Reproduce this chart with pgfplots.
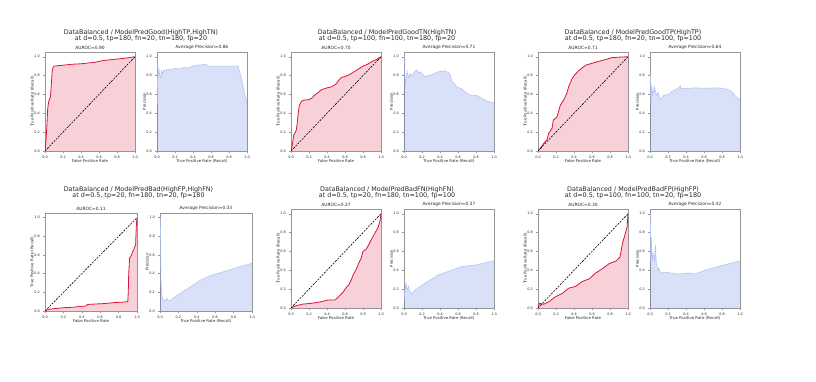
\documentclass[border=0pt]{standalone}
\usepackage{fontspec}
\setmainfont{DejaVu Sans}
\usepackage{pgfplots}
\usepackage{pgfplotstable}
\pgfplotsset{compat=1.18}
\definecolor{roc}{RGB}{220,20,60}
\definecolor{prc}{RGB}{65,105,225}
\definecolor{spinec}{RGB}{150,150,150}
\definecolor{txt}{RGB}{40,40,40}
\pgfplotsset{
 base/.style={scale only axis, width=90pt, height=99pt, anchor=north west,
  xmin=0,xmax=1,ymin=0,ymax=1.05,
  axis line style={spinec, line width=0.9pt},
  xtick={0,0.2,0.4,0.6,0.8,1}, ytick={0,0.2,0.4,0.6,0.8,1},
  xticklabels={0.0,0.2,0.4,0.6,0.8,1.0}, yticklabels={0.0,0.2,0.4,0.6,0.8,1.0},
  tick align=outside, xtick pos=bottom, ytick pos=left, major tick length=1.6pt,
  tick style={spinec, line width=0.4pt},
  tick label style={font=\fontsize{3.4}{3.8}\selectfont, text=txt},
  label style={font=\fontsize{3.9}{4.3}\selectfont, text=txt},
  xlabel style={at={(axis description cs:0.5,-0.1)}, anchor=center},
  ylabel style={at={(axis description cs:-0.14,0.5)}, anchor=center},
  title style={font=\fontsize{4.4}{4.8}\selectfont, text=txt, at={(0.5,1)}, anchor=south, yshift=-7.2pt},
  clip=true},
 rocax/.style={base, xlabel={False Positive Rate}, ylabel={True Positive Rate (Recall)}},
 prax/.style={base, xlabel={True Positive Rate (Recall)}, ylabel={Precision}},
 rocfill/.style={fill=roc, fill opacity=0.2, draw=none},
 rocline/.style={roc, line width=0.8pt},
 prfill/.style={fill=prc, fill opacity=0.2, draw=none},
 prline/.style={prc!40, line width=0.6pt},
 diag/.style={black, line width=0.6pt, dash pattern=on 2pt off 1.2pt},
}
\newcommand{\suptitle}[3]{\node[font=\fontsize{6.4}{7}\selectfont, text=txt] at (#1pt,-#2pt) {#3};}
% ---- data ----
\pgfplotstableread[row sep=\\]{x y\\ 0 0\\ 0.01 0.1\\ 0.02 0.25\\ 0.03 0.45\\ 0.04 0.52\\ 0.05 0.55\\ 0.06 0.57\\ 0.07 0.7\\ 0.08 0.85\\ 0.09 0.89\\ 0.1 0.90\\ 0.15 0.905\\ 0.2 0.91\\ 0.25 0.915\\ 0.3 0.92\\ 0.4 0.925\\ 0.45 0.93\\ 0.5 0.935\\ 0.55 0.94\\ 0.6 0.95\\ 0.65 0.96\\ 0.7 0.965\\ 0.8 0.975\\ 0.9 0.985\\ 1 1\\}\rocA
\pgfplotstableread[row sep=\\]{x y\\ 0 1.0\\ 0.002 0.5\\ 0.005 0.67\\ 0.01 0.75\\ 0.02 0.88\\ 0.03 0.8\\ 0.04 0.78\\ 0.05 0.85\\ 0.06 0.82\\ 0.08 0.86\\ 0.1 0.85\\ 0.12 0.87\\ 0.15 0.86\\ 0.2 0.875\\ 0.25 0.87\\ 0.3 0.885\\ 0.35 0.88\\ 0.4 0.9\\ 0.45 0.91\\ 0.5 0.915\\ 0.55 0.915\\ 0.57 0.9\\ 0.65 0.9\\ 0.75 0.9\\ 0.85 0.9\\ 0.9 0.9\\ 0.91 0.87\\ 0.93 0.8\\ 0.95 0.72\\ 0.97 0.62\\ 0.99 0.55\\ 1.0 0.5\\}\prA
\pgfplotstableread[row sep=\\]{x y\\ 0 0\\ 0.01 0.04\\ 0.02 0.1\\ 0.03 0.17\\ 0.05 0.2\\ 0.06 0.23\\ 0.07 0.3\\ 0.08 0.4\\ 0.09 0.47\\ 0.1 0.5\\ 0.12 0.53\\ 0.15 0.54\\ 0.2 0.545\\ 0.23 0.56\\ 0.26 0.59\\ 0.3 0.62\\ 0.34 0.65\\ 0.4 0.67\\ 0.45 0.68\\ 0.5 0.71\\ 0.53 0.75\\ 0.56 0.78\\ 0.6 0.79\\ 0.65 0.81\\ 0.7 0.84\\ 0.75 0.87\\ 0.8 0.9\\ 0.85 0.92\\ 0.9 0.95\\ 0.95 0.97\\ 1 1\\}\rocB
\pgfplotstableread[row sep=\\]{x y\\ 0 1.0\\ 0.008 1.0\\ 0.012 0.68\\ 0.025 0.78\\ 0.037 0.84\\ 0.05 0.78\\ 0.07 0.82\\ 0.09 0.79\\ 0.11 0.83\\ 0.14 0.86\\ 0.16 0.82\\ 0.18 0.84\\ 0.23 0.79\\ 0.31 0.81\\ 0.38 0.84\\ 0.46 0.85\\ 0.51 0.82\\ 0.53 0.74\\ 0.59 0.68\\ 0.64 0.66\\ 0.7 0.61\\ 0.75 0.59\\ 0.81 0.59\\ 0.86 0.56\\ 0.92 0.53\\ 1 0.51\\}\prB
\pgfplotstableread[row sep=\\]{x y\\ 0 0\\ 0.026 0.03\\ 0.063 0.08\\ 0.1 0.12\\ 0.12 0.19\\ 0.156 0.24\\ 0.17 0.33\\ 0.21 0.36\\ 0.25 0.49\\ 0.285 0.54\\ 0.32 0.61\\ 0.34 0.68\\ 0.38 0.77\\ 0.41 0.81\\ 0.45 0.85\\ 0.49 0.88\\ 0.53 0.91\\ 0.6 0.93\\ 0.67 0.95\\ 0.75 0.97\\ 0.82 0.99\\ 0.9 0.995\\ 1 1\\}\rocC
\pgfplotstableread[row sep=\\]{x y\\ 0 0.8\\ 0.005 0.8\\ 0.01 0.5\\ 0.02 0.7\\ 0.03 0.6\\ 0.05 0.68\\ 0.07 0.59\\ 0.09 0.62\\ 0.115 0.54\\ 0.15 0.59\\ 0.21 0.6\\ 0.24 0.63\\ 0.32 0.67\\ 0.34 0.69\\ 0.345 0.66\\ 0.43 0.665\\ 0.5 0.67\\ 0.61 0.665\\ 0.73 0.67\\ 0.8 0.665\\ 0.87 0.65\\ 0.91 0.63\\ 0.95 0.58\\ 1 0.54\\}\prC
\pgfplotstableread[row sep=\\]{x y\\ 0 0\\ 0.02 0.01\\ 0.05 0.02\\ 0.1 0.025\\ 0.15 0.03\\ 0.2 0.035\\ 0.3 0.04\\ 0.4 0.05\\ 0.45 0.055\\ 0.46 0.07\\ 0.55 0.075\\ 0.65 0.08\\ 0.75 0.09\\ 0.85 0.095\\ 0.9 0.1\\ 0.905 0.2\\ 0.91 0.4\\ 0.92 0.57\\ 0.93 0.58\\ 0.94 0.6\\ 0.95 0.63\\ 0.96 0.65\\ 0.97 0.67\\ 0.98 0.7\\ 0.985 0.71\\ 0.99 0.85\\ 0.995 0.95\\ 1 1\\}\rocD
\pgfplotstableread[row sep=\\]{x y\\ 0 1.0\\ 0.004 1.0\\ 0.01 0.33\\ 0.018 0.17\\ 0.03 0.13\\ 0.05 0.11\\ 0.065 0.12\\ 0.075 0.136\\ 0.09 0.107\\ 0.12 0.118\\ 0.19 0.17\\ 0.3 0.24\\ 0.44 0.33\\ 0.55 0.38\\ 0.69 0.42\\ 0.87 0.475\\ 1 0.51\\}\prD
\pgfplotstableread[row sep=\\]{x y\\ 0 0\\ 0.044 0.02\\ 0.12 0.04\\ 0.23 0.05\\ 0.34 0.067\\ 0.41 0.085\\ 0.49 0.085\\ 0.53 0.12\\ 0.58 0.17\\ 0.62 0.226\\ 0.64 0.24\\ 0.67 0.3\\ 0.69 0.35\\ 0.71 0.385\\ 0.73 0.42\\ 0.75 0.47\\ 0.78 0.53\\ 0.8 0.6\\ 0.84 0.63\\ 0.88 0.7\\ 0.9 0.74\\ 0.93 0.79\\ 0.97 0.86\\ 0.99 0.93\\ 1 1\\}\rocE
\pgfplotstableread[row sep=\\]{x y\\ 0 0.085\\ 0.01 0.19\\ 0.022 0.26\\ 0.033 0.19\\ 0.05 0.23\\ 0.067 0.17\\ 0.085 0.15\\ 0.12 0.19\\ 0.23 0.26\\ 0.38 0.35\\ 0.53 0.4\\ 0.64 0.44\\ 0.79 0.455\\ 1 0.5\\}\prE
\pgfplotstableread[row sep=\\]{x y\\ 0 0\\ 0.015 0.05\\ 0.064 0.04\\ 0.12 0.067\\ 0.195 0.12\\ 0.27 0.155\\ 0.34 0.21\\ 0.42 0.23\\ 0.49 0.28\\ 0.57 0.31\\ 0.64 0.37\\ 0.72 0.42\\ 0.79 0.47\\ 0.87 0.5\\ 0.91 0.54\\ 0.94 0.69\\ 0.97 0.79\\ 0.99 0.86\\ 1 1\\}\rocF
\pgfplotstableread[row sep=\\]{x y\\ 0 1.0\\ 0.004 1.0\\ 0.008 0.5\\ 0.015 0.75\\ 0.022 0.5\\ 0.033 0.58\\ 0.05 0.5\\ 0.06 0.67\\ 0.07 0.47\\ 0.09 0.4\\ 0.1 0.42\\ 0.115 0.37\\ 0.17 0.38\\ 0.24 0.37\\ 0.32 0.36\\ 0.43 0.37\\ 0.5 0.36\\ 0.61 0.4\\ 0.76 0.44\\ 1 0.5\\}\prF
\newcommand{\rocplot}[1]{%
 \addplot[rocfill] table {#1} \closedcycle;
 \addplot[rocline] table {#1};
 \addplot[diag] coordinates {(0,0)(1,1)};}
\newcommand{\prplot}[1]{%
 \addplot[prfill] table {#1} \closedcycle;
 \addplot[prline] table {#1};}
\begin{document}
\begin{tikzpicture}
\path[use as bounding box] (0,0) rectangle (816pt,-382pt);
% ---------- Row 1 ----------
\suptitle{141}{32.3}{DataBalanced / ModelPredGood(HighTP,HighTN)}
\suptitle{141}{38.9}{at d=0.5, tp=180, fn=20, tn=180, fp=20}
\begin{axis}[rocax, at={(45pt,-52pt)}, title={AUROC=0.90}]
\rocplot{\rocA}
\end{axis}
\begin{axis}[prax, at={(157pt,-52pt)}, title={Average Precision=0.86}]
\prplot{\prA}
\end{axis}
\suptitle{387}{32.3}{DataBalanced / ModelPredGoodTN(HighTN)}
\suptitle{387}{38.9}{at d=0.5, tp=100, fn=100, tn=180, fp=20}
\begin{axis}[rocax, at={(291pt,-52pt)}, title={AUROC=0.70}]
\rocplot{\rocB}
\end{axis}
\begin{axis}[prax, at={(404pt,-52pt)}, title={Average Precision=0.71}]
\prplot{\prB}
\end{axis}
\suptitle{633}{32.3}{DataBalanced / ModelPredGoodTP(HighTP)}
\suptitle{633}{38.9}{at d=0.5, tp=180, fn=20, tn=100, fp=100}
\begin{axis}[rocax, at={(538pt,-52pt)}, title={AUROC=0.71}]
\rocplot{\rocC}
\end{axis}
\begin{axis}[prax, at={(650pt,-52pt)}, title={Average Precision=0.64}]
\prplot{\prC}
\end{axis}
% ---------- Row 2 ----------
\suptitle{138.5}{189.3}{DataBalanced / ModelPredBad(HighFP,HighFN)}
\suptitle{138.5}{195.9}{at d=0.5, tp=20, fn=180, tn=20, fp=180}
\begin{axis}[rocax, width=92pt, height=98pt, at={(45pt,-213pt)}, title={AUROC=0.11}]
\rocplot{\rocD}
\end{axis}
\begin{axis}[prax, width=92pt, height=98pt, at={(160pt,-213pt)}, title={Average Precision=0.33}]
\prplot{\prD}
\end{axis}
\suptitle{387}{189.3}{DataBalanced / ModelPredBadFN(HighFN)}
\suptitle{387}{195.9}{at d=0.5, tp=20, fn=180, tn=100, fp=100}
\begin{axis}[rocax, at={(291pt,-209pt)}, title={AUROC=0.27}]
\rocplot{\rocE}
\end{axis}
\begin{axis}[prax, at={(404pt,-209pt)}, title={Average Precision=0.37}]
\prplot{\prE}
\end{axis}
\suptitle{633}{189.3}{DataBalanced / ModelPredBadFP(HighFP)}
\suptitle{633}{195.9}{at d=0.5, tp=100, fn=100, tn=20, fp=180}
\begin{axis}[rocax, at={(538pt,-209pt)}, title={AUROC=0.30}]
\rocplot{\rocF}
\end{axis}
\begin{axis}[prax, at={(650pt,-209pt)}, title={Average Precision=0.42}]
\prplot{\prF}
\end{axis}
\end{tikzpicture}
\end{document}
